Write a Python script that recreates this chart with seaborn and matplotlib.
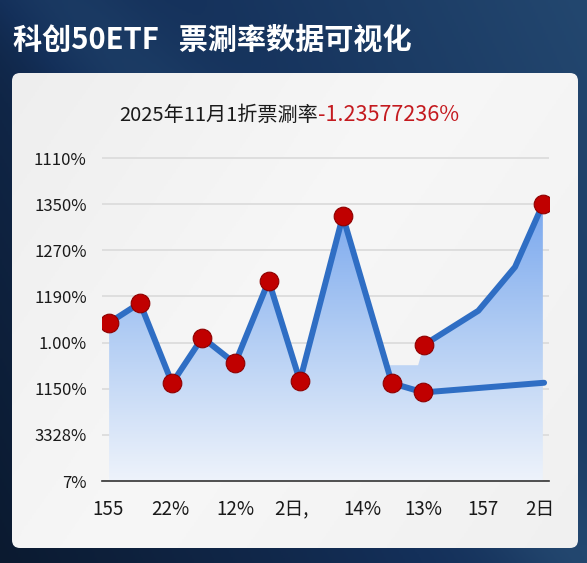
import numpy as np
import matplotlib
matplotlib.use("Agg")
import matplotlib.pyplot as plt
from matplotlib.colors import LinearSegmentedColormap
from matplotlib.patches import FancyBboxPatch, Polygon
import seaborn as sns

# chart data
main_x = [0.04, 1.04, 2.08, 3.06, 4.12, 5.21, 6.22, 7.61, 9.20, 10.22, 14.13]
main_y = [3.43, 3.86, 2.12, 3.11, 2.55, 4.34, 2.17, 5.74, 2.12, 1.92, 2.13]
upper_x = [10.24, 12.00, 13.19, 14.09]
upper_y = [2.95, 3.69, 4.64, 6.00]
marker_x = main_x[:10] + [upper_x[0], upper_x[-1]]
marker_y = main_y[:10] + [upper_y[0], upper_y[-1]]
# top edge of the shaded area
area_x = main_x[:8] + [9.05, 10.05] + upper_x
area_y = main_y[:8] + [2.51, 2.51] + upper_y

y_ticks = [0, 1, 2, 3, 4, 5, 6, 7]
y_labels = ["7%", "3328%", "1150%", "1.00%", "1190%", "1270%", "1350%", "1110%"]
x_ticks = [0, 2.01, 4.12, 5.96, 8.23, 10.21, 12.15, 14.0]
x_labels = ["155", "22%", "12%", "2日,", "14%", "13%", "157", "2日"]

title = "科创50ETF   票涮率数据可视化"
sub_black = "2025年11月1折票涮率"
sub_red = "-1.23577236%"

sns.set_theme(style="white")
plt.rcParams["font.family"] = ["Noto Sans CJK SC", "DejaVu Sans"]

fig = plt.figure(figsize=(5.87, 5.63), dpi=100)

# dark background + card
bg = fig.add_axes([0, 0, 1, 1])
bg.set_xlim(0, 587)
bg.set_ylim(0, 563)
bg.axis("off")
gx, gy = np.meshgrid(np.linspace(0, 1, 300), np.linspace(0, 1, 300))
grad = 0.55 * gx + 0.25 * (1 - gy) + 0.25 * np.exp(-((gx - gy * 0.9 - 0.1) ** 2) / 0.02)
navy = LinearSegmentedColormap.from_list("navy", ["#0b1a30", "#14305a", "#23476f"])
bg.imshow(grad, extent=(0, 587, 0, 563), origin="upper", cmap=navy, aspect="auto")

card = FancyBboxPatch((12, 15), 566, 475, boxstyle="round,pad=0,rounding_size=8",
                      facecolor="none", edgecolor="none")
bg.add_patch(card)
cg = 0.6 * gx + 0.4 * gy
card_cmap = LinearSegmentedColormap.from_list("card", ["#ededed", "#f7f7f7", "#f0f0f0"])
im = bg.imshow(cg, extent=(0, 587, 0, 563), origin="upper", cmap=card_cmap, aspect="auto")
im.set_clip_path(card)

fig.text(0.022, 0.93, title, color="white", fontsize=21, fontweight="bold",
         ha="left", va="center")
fig.text(0.5417, 0.7957, sub_black, color="#1a1a1a", fontsize=14.5, ha="right", va="center")
fig.text(0.5417, 0.7957, sub_red, color="#c41a1f", fontsize=15.5, ha="left", va="center")

# main plot
ax = fig.add_axes([0.1738, 0.1456, 0.9353 - 0.1738, 0.7357 - 0.1456])
ax.set_facecolor("none")

xlim = (-0.19, 14.29)
ylim = (0, 7.2)

poly = Polygon(list(zip(area_x, area_y)) + [(area_x[-1], 0), (area_x[0], 0)],
               closed=True, facecolor="none", edgecolor="none")
ax.add_patch(poly)
fill_cmap = LinearSegmentedColormap.from_list("fill", ["#eef3fb", "#b5cff4", "#7aa8ee"])
fg = np.linspace(0, 1, 256).reshape(-1, 1)
fim = ax.imshow(fg, extent=(xlim[0], xlim[1], 0, 6.0), origin="lower", cmap=fill_cmap,
                aspect="auto", zorder=1)
fim.set_clip_path(poly)

sns.lineplot(x=main_x, y=main_y, sort=False, estimator=None, color="#2f6ec4",
             linewidth=4.3, ax=ax, zorder=3)
sns.lineplot(x=upper_x, y=upper_y, sort=False, estimator=None, color="#2f6ec4",
             linewidth=4.3, ax=ax, zorder=3)
sns.scatterplot(x=marker_x, y=marker_y, s=180, color="#c00000", edgecolor="#8e0000",
                linewidth=0.8, ax=ax, zorder=4)

ax.set_xlim(*xlim)
ax.set_ylim(*ylim)
ax.set_yticks(y_ticks)
ax.set_yticklabels(y_labels)
ax.set_xticks(x_ticks)
ax.set_xticklabels(x_labels)
ax.tick_params(axis="both", length=0, colors="#1a1a1a")
ax.tick_params(axis="y", pad=11, labelsize=12)
ax.tick_params(axis="x", pad=13, labelsize=13.5)
ax.yaxis.grid(True, color="#dcdcdc", linewidth=1.3)
ax.set_axisbelow(True)
for side in ["left", "right", "top"]:
    ax.spines[side].set_visible(False)
ax.spines["bottom"].set_color("#333333")
ax.spines["bottom"].set_linewidth(1.2)

fig.savefig("out.png", dpi=100)
